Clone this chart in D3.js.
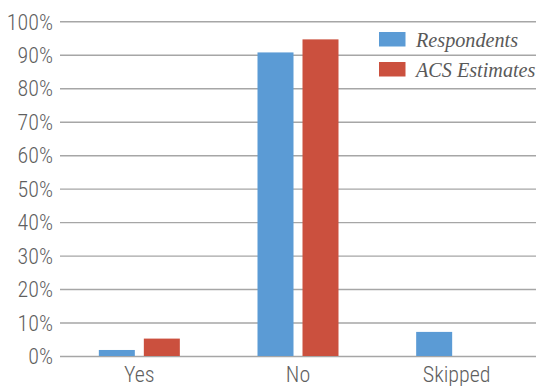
<!DOCTYPE html>
<html><head><meta charset="utf-8">
<script src="https://cdn.jsdelivr.net/npm/d3@7"></script>
<style>
html,body{margin:0;padding:0;background:#fff;}
svg{display:block;}
</style></head>
<body><svg id="c" width="536" height="386"></svg>
<script>
const categories = ["Yes", "No", "Skipped"];
const seriesNames = ["Respondents", "ACS Estimates"];
const respondents = [1.8, 90.7, 7.2];
const acsEstimates = [5.2, 94.6, null];
const yTicks = [0, 10, 20, 30, 40, 50, 60, 70, 80, 90, 100];
const colors = ["#5b9bd5", "#cb503e"];

const svg = d3.select("#c");
const mLeft = 60, mRight = 536, mTop = 21.3, mBottom = 356;
const x = d3.scaleBand().domain(categories).range([mLeft, mRight]).paddingInner(0).paddingOuter(0);
const y = d3.scaleLinear().domain([0, 100]).range([mBottom, mTop]);
const x1 = d3.scaleBand().domain(seriesNames).range([0, x.bandwidth()]).paddingInner(0.2).paddingOuter(0.863);

const fontFam = '"Liberation Sans Narrow","Roboto Condensed","Liberation Sans",sans-serif';

// gridlines
const yAxis = d3.axisLeft(y).tickValues(yTicks).tickFormat(d => d + "%").tickSize(-(mRight - mLeft)).tickPadding(7);
const gy = svg.append("g").attr("transform", `translate(${mLeft},0)`).call(yAxis);
gy.select(".domain").remove();
gy.selectAll(".tick line").attr("stroke", "#a6a6a6").attr("stroke-width", 1.4);
gy.selectAll(".tick text").attr("fill", "#5f5f5f").attr("font-size", 22).attr("font-weight", 300).attr("font-family", fontFam).attr("dy", "0.35em");

// bars
const data = [respondents, acsEstimates];
data.forEach((vals, si) => {
  svg.append("g").selectAll("rect")
    .data(categories.map((c, i) => ({c, v: vals[i]})).filter(d => d.v != null))
    .join("rect")
    .attr("x", d => x(d.c) + x1(seriesNames[si]))
    .attr("width", x1.bandwidth())
    .attr("y", d => y(d.v))
    .attr("height", d => y(0) - y(d.v))
    .attr("fill", colors[si]);
});

// x axis labels
const xAxis = d3.axisBottom(x).tickSize(0).tickPadding(10);
const gx = svg.append("g").attr("transform", `translate(0,${mBottom})`).call(xAxis);
gx.select(".domain").remove();
gx.selectAll(".tick text").attr("fill", "#5f5f5f").attr("font-size", 22).attr("font-weight", 300).attr("font-family", fontFam);

// legend
const lg = svg.append("g").attr("transform", "translate(379,32)");
seriesNames.forEach((n, i) => {
  const g = lg.append("g").attr("transform", `translate(0,${i * 30})`);
  g.append("rect").attr("width", 26.5).attr("height", 14.5).attr("fill", colors[i]);
  g.append("text").attr("x", 37).attr("y", 14.5).text(n)
    .attr("font-family", '"Liberation Serif","DejaVu Serif",serif').attr("font-style", "italic")
    .attr("font-size", 20.2).attr("fill", "#595959");
});
</script></body></html>
